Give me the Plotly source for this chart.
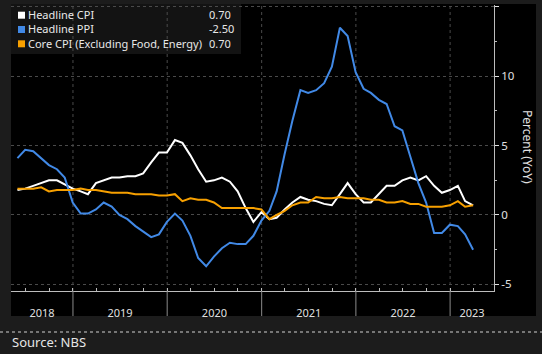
import pandas as pd
import plotly.graph_objects as go

# ---- data (monthly, May 2018 - Mar 2023, YoY %) ----
months = pd.date_range("2018-05-31", "2023-03-31", freq="ME")

headline_cpi = [1.8, 1.9, 2.1, 2.3, 2.5, 2.5, 2.2, 1.9,
                1.7, 1.5, 2.3, 2.5, 2.7, 2.7, 2.8, 2.8, 3.0, 3.8, 4.5, 4.5,
                5.4, 5.2, 4.3, 3.3, 2.4, 2.5, 2.7, 2.4, 1.7, 0.5, -0.5, 0.2,
                -0.3, -0.2, 0.4, 0.9, 1.3, 1.1, 1.0, 0.8, 0.7, 1.5, 2.3, 1.5,
                0.9, 0.9, 1.5, 2.1, 2.1, 2.5, 2.7, 2.5, 2.8, 2.1, 1.6, 1.8,
                2.1, 1.0, 0.7]
headline_ppi = [4.1, 4.7, 4.6, 4.1, 3.6, 3.3, 2.7, 0.9,
                0.1, 0.1, 0.4, 0.9, 0.6, 0.0, -0.3, -0.8, -1.2, -1.6, -1.4, -0.5,
                0.1, -0.4, -1.5, -3.1, -3.7, -3.0, -2.4, -2.0, -2.1, -2.1, -1.5, -0.4,
                0.3, 1.7, 4.4, 6.8, 9.0, 8.8, 9.0, 9.5, 10.7, 13.5, 12.9, 10.3,
                9.1, 8.8, 8.3, 8.0, 6.4, 6.1, 4.2, 2.3, 0.9, -1.3, -1.3, -0.7,
                -0.8, -1.4, -2.5]
core_cpi = [1.9, 1.9, 1.9, 2.0, 1.7, 1.8, 1.8, 1.8,
            1.9, 1.8, 1.8, 1.7, 1.6, 1.6, 1.6, 1.5, 1.5, 1.5, 1.4, 1.4,
            1.5, 1.0, 1.2, 1.1, 1.1, 0.9, 0.5, 0.5, 0.5, 0.5, 0.5, 0.4,
            -0.3, 0.0, 0.3, 0.7, 0.9, 0.9, 1.3, 1.2, 1.2, 1.3, 1.2, 1.2,
            1.2, 1.1, 1.1, 0.9, 0.9, 1.0, 0.8, 0.8, 0.6, 0.6, 0.6, 0.7,
            1.0, 0.6, 0.7]

series_names = ["Headline CPI", "Headline PPI", "Core CPI (Excluding Food, Energy)"]
series_last = ["0.70", "-2.50", "0.70"]
series_colors = ["#ffffff", "#4189e6", "#f7a000"]
years = ["2018", "2019", "2020", "2021", "2022", "2023"]

# ---- layout geometry ----
W, H = 542, 354
L, R, T, B = 11, 48, 5, 63
PW, PH = W - L - R, H - T - B


def px(x):
    return (x - L) / PW


def py(y):
    return (H - B - y) / PH


x_range = [pd.Timestamp("2018-05-06"), pd.Timestamp("2023-06-20")]
y_range = [-5.48, 15.14]
FONT = "Noto Sans"

fig = go.Figure()
for name, vals, col in zip(series_names, [headline_cpi, headline_ppi, core_cpi], series_colors):
    fig.add_trace(go.Scatter(x=months, y=vals, mode="lines", name=name,
                             line=dict(color=col, width=2), showlegend=False))

# year label positions: middle of visible part of each year
year_starts = [pd.Timestamp(f"{y}-01-01") for y in years]
bounds = [x_range[0]] + year_starts[1:] + [x_range[1]]
mids = [bounds[i] + (bounds[i + 1] - bounds[i]) / 2 for i in range(len(years))]

shapes = []
# black panel
shapes.append(dict(type="rect", xref="paper", yref="paper", x0=px(11), x1=px(536),
                   y0=py(316), y1=py(4), fillcolor="#000000", line=dict(width=0), layer="below"))
# legend box
shapes.append(dict(type="rect", xref="paper", yref="paper", x0=px(11), x1=px(241),
                   y0=py(54), y1=py(4), fillcolor="#131313", line=dict(width=0), layer="below"))
# year separators and vertical dotted grid
for ys in year_starts[1:]:
    shapes.append(dict(type="line", xref="x", yref="paper", x0=ys, x1=ys,
                       y0=py(291), y1=py(316), line=dict(color="#8a8a8a", width=1)))
    shapes.append(dict(type="line", xref="x", yref="paper", x0=ys, x1=ys,
                       y0=0, y1=1, line=dict(color="#4a4a4a", width=1, dash="dot"), layer="below"))
# source separator dotted line
shapes.append(dict(type="line", xref="paper", yref="paper", x0=px(0), x1=px(542),
                   y0=py(332), y1=py(332), line=dict(color="#d0d0d0", width=1, dash="dot")))

annotations = []
LEG_FS = 11
row_h = LEG_FS * 1.3
row_c = 29.5
row_y = [row_c - row_h, row_c, row_c + row_h]
for i, col in enumerate(series_colors):
    shapes.append(dict(type="rect", xref="paper", yref="paper",
                       x0=px(18), x1=px(25), y0=py(row_y[i] + 3.5), y1=py(row_y[i] - 3.5),
                       fillcolor=col, line=dict(width=0)))
annotations.append(dict(text="<br>".join(series_names), xref="paper", yref="paper",
                        x=px(27), y=py(row_c), xanchor="left", yanchor="middle", align="left",
                        showarrow=False, borderpad=0,
                        font=dict(family=FONT, size=LEG_FS, color="#e8e8e8")))
annotations.append(dict(text="<br>".join(series_last), xref="paper", yref="paper",
                        x=px(208), y=py(row_c), xanchor="left", yanchor="middle", align="left",
                        showarrow=False, borderpad=0,
                        font=dict(family=FONT, size=LEG_FS, color="#e8e8e8")))

annotations.append(dict(text="Percent (YoY)", xref="paper", yref="paper", x=px(528), y=py(147),
                        textangle=90, showarrow=False, xanchor="center", yanchor="middle",
                        font=dict(family=FONT, size=12, color="#e0e0e0")))
annotations.append(dict(text="Source: NBS", xref="paper", yref="paper", x=px(10), y=py(342),
                        xanchor="left", yanchor="middle", showarrow=False,
                        font=dict(family=FONT, size=13, color="#e6e6e6")))

fig.update_layout(
    width=W, height=H,
    margin=dict(l=L, r=R, t=T, b=B, pad=0),
    paper_bgcolor="#1c1c1c", plot_bgcolor="#000000",
    shapes=shapes, annotations=annotations,
    xaxis=dict(type="date", range=x_range, tickmode="array", tickvals=mids, ticktext=years,
               ticks="outside", ticklen=12, tickcolor="rgba(0,0,0,0)",
               showgrid=False, zeroline=False, showline=True, linecolor="#bdbdbd", linewidth=1,
               tickfont=dict(family=FONT, size=11, color="#e0e0e0"),
               minor=dict(tickmode="linear", tick0="2018-01-01", dtick="M3", ticks="inside",
                          ticklen=3, tickcolor="#bdbdbd", showgrid=False),
               fixedrange=True),
    yaxis=dict(side="right", range=y_range,
               ticks="outside", ticklen=4, tickcolor="#e0e0e0",
               showgrid=True, gridcolor="#4a4a4a", griddash="dot", gridwidth=1,
               zeroline=False, showline=True, linecolor="#bdbdbd", linewidth=1,
               tickfont=dict(family=FONT, size=11.5, color="#e0e0e0"),
               tickmode="array", tickvals=[-5, 0, 5, 10, 15], ticktext=["-5", "0", "5", "10", ""],
               minor=dict(tickmode="linear", tick0=0, dtick=2.5, ticks="outside",
                          ticklen=2, tickcolor="#bdbdbd", showgrid=False)),
)

fig.write_html("out.html")
